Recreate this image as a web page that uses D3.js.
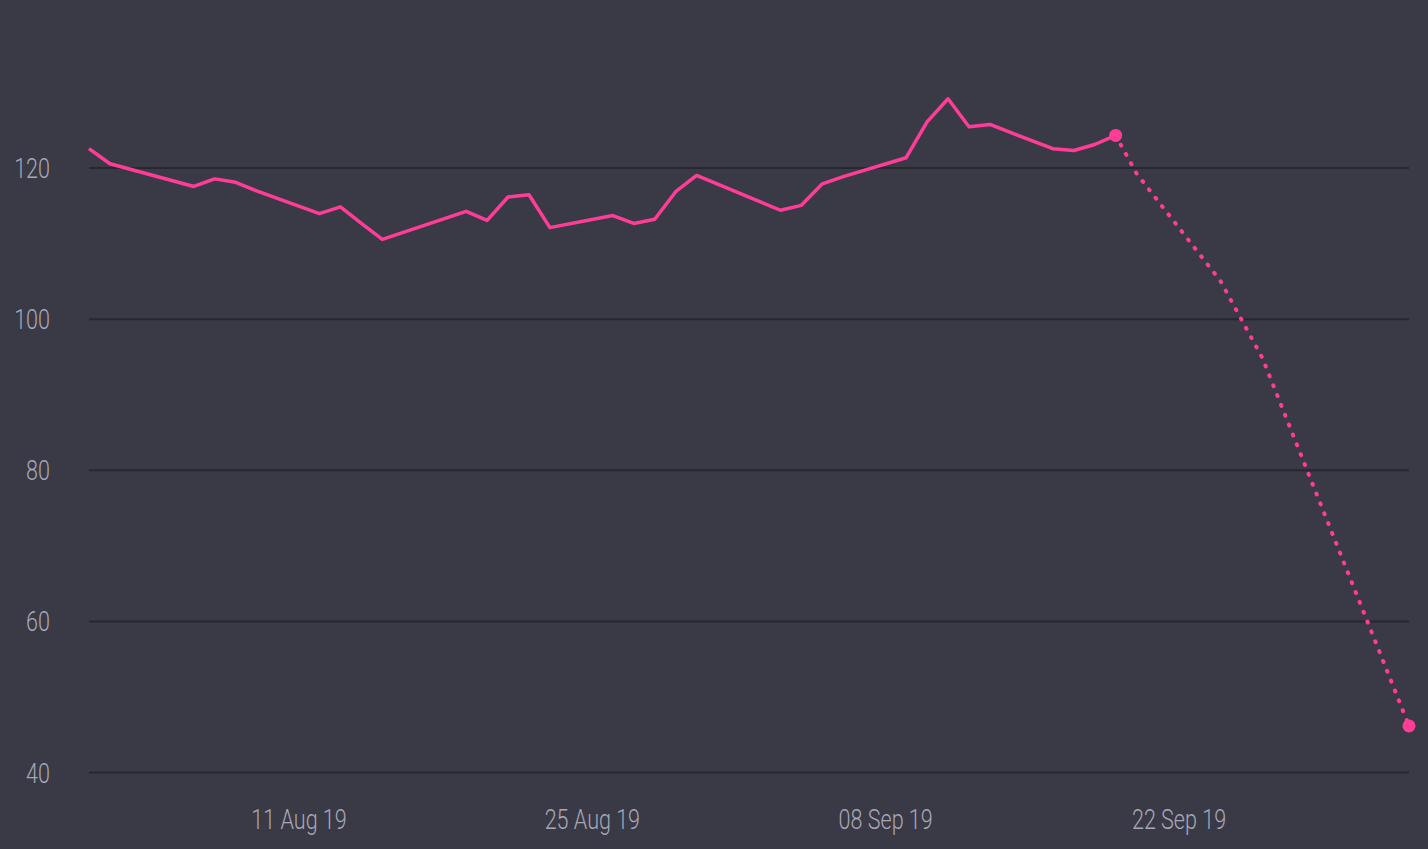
<!DOCTYPE html>
<html>
<head>
<meta charset="utf-8">
<script src="https://cdn.jsdelivr.net/npm/d3@7"></script>
<style>
  html, body { margin: 0; padding: 0; background: #3a3a46; }
  svg { display: block; }
</style>
</head>
<body>
<div id="chart"></div>
<script>
/* CONSTANTS AND GLOBALS */
const width = 1428,
  height = 849,
  margin = { top: 92, bottom: 77, left: 89, right: 19 };

const bg = "#3a3a46",
  pink = "#ff3d96",
  gridColor = "#27272f",
  textColor = "#a7a7b7";

/* DATA */
// observed closes (solid line)
const dates = [
  "2019-08-01", "2019-08-02", "2019-08-06", "2019-08-07", "2019-08-08", "2019-08-09",
  "2019-08-12", "2019-08-13", "2019-08-14", "2019-08-15", "2019-08-19", "2019-08-20",
  "2019-08-21", "2019-08-22", "2019-08-23", "2019-08-26", "2019-08-27", "2019-08-28",
  "2019-08-29", "2019-08-30", "2019-09-03", "2019-09-04", "2019-09-05", "2019-09-06",
  "2019-09-09", "2019-09-10", "2019-09-11", "2019-09-12", "2019-09-13", "2019-09-16",
  "2019-09-17", "2019-09-18", "2019-09-19"
];
const values = [
  122.5, 120.5, 117.5, 118.5, 118.05, 116.9,
  113.9, 114.8, 112.6, 110.5, 114.2, 113.0,
  116.1, 116.4, 112.05, 113.65, 112.6, 113.15,
  116.8, 118.95, 114.35, 115.0, 117.85, 118.8,
  121.3, 126.05, 129.1, 125.4, 125.7, 122.5,
  122.25, 123.05, 124.25
];
// projected path (dotted line)
const forecastDates = ["2019-09-19", "2019-09-20", "2019-09-24", "2019-09-25", "2019-09-26", "2019-10-03"];
const forecastValues = [124.25, 119.2, 105.0, 99.9, 94.8, 46.1];

const xTicks = ["2019-08-11", "2019-08-25", "2019-09-08", "2019-09-22"];
const yTicks = [40, 60, 80, 100, 120];

const parse = d3.utcParse("%Y-%m-%d");
const observed = dates.map((d, i) => ({ date: parse(d), value: values[i] }));
const forecast = forecastDates.map((d, i) => ({ date: parse(d), value: forecastValues[i] }));

/* SCALES */
const xScale = d3.scaleUtc()
  .domain([parse("2019-08-01"), parse("2019-10-03")])
  .range([margin.left, width - margin.right]);

const yScale = d3.scaleLinear()
  .domain([40, 130])
  .range([height - margin.bottom, margin.top]);

/* SVG */
const svg = d3.select("#chart")
  .append("svg")
  .attr("width", width)
  .attr("height", height);

svg.append("rect")
  .attr("width", width)
  .attr("height", height)
  .attr("fill", bg);

// y axis doubles as gridlines
const yAxis = d3.axisLeft(yScale)
  .tickValues(yTicks)
  .tickSize(-(width - margin.left - margin.right))
  .tickFormat(d3.format("d"));

const yG = svg.append("g")
  .attr("transform", `translate(${margin.left},0)`)
  .call(yAxis);

yG.select(".domain").remove();
yG.selectAll(".tick line")
  .attr("stroke", gridColor)
  .attr("stroke-width", 2);
yG.selectAll(".tick text")
  .attr("x", 0)
  .attr("dy", "0.36em")
  .attr("transform", "translate(-39,0) scale(0.77,1)")
  .attr("fill", textColor)
  .style("font-family", "Roboto, 'Noto Sans', sans-serif")
  .style("font-weight", 300)
  .style("font-size", "28px");

const xAxis = d3.axisBottom(xScale)
  .tickValues(xTicks.map(parse))
  .tickSize(0)
  .tickFormat(d3.utcFormat("%d %b %y"));

const xG = svg.append("g")
  .attr("transform", `translate(0,${height - margin.bottom})`)
  .call(xAxis);

xG.select(".domain").remove();
xG.selectAll(".tick text")
  .attr("y", 57)
  .attr("dy", null)
  .attr("transform", "scale(0.77,1)")
  .attr("fill", textColor)
  .style("font-family", "Roboto, 'Noto Sans', sans-serif")
  .style("font-weight", 300)
  .style("font-size", "28px");

/* LINES */
const line = d3.line()
  .x(d => xScale(d.date))
  .y(d => yScale(d.value));

svg.append("path")
  .datum(forecast)
  .attr("d", line)
  .attr("fill", "none")
  .attr("stroke", pink)
  .attr("stroke-width", 4)
  .attr("stroke-linecap", "round")
  .attr("stroke-dasharray", "1,9.6");

svg.append("path")
  .datum(observed)
  .attr("d", line)
  .attr("fill", "none")
  .attr("stroke", pink)
  .attr("stroke-width", 3.5)
  .attr("stroke-linejoin", "round");

// end markers
svg.selectAll("circle.end")
  .data([forecast[0], forecast[forecast.length - 1]])
  .join("circle")
  .attr("class", "end")
  .attr("cx", d => xScale(d.date))
  .attr("cy", d => yScale(d.value))
  .attr("r", 6.5)
  .attr("fill", pink);
</script>
</body>
</html>
